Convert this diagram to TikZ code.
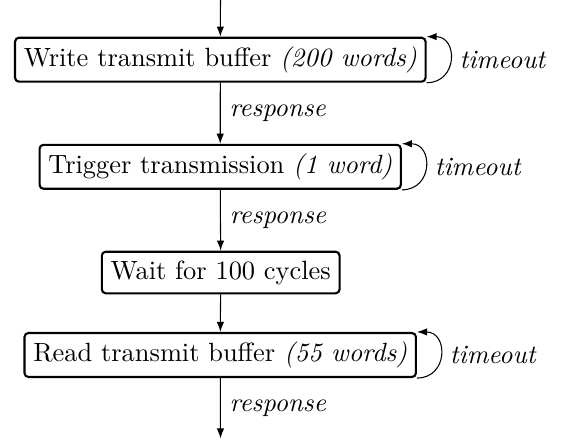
\documentclass[tikz,border=0pt]{standalone}
\usetikzlibrary{arrows.meta}
\begin{document}
\begin{tikzpicture}[x=0.3788pt,y=-0.3788pt,
  stepbox/.style={draw,thick,rounded corners=1.5pt,inner sep=3.33pt},
  flow/.style={-{Latex[length=3.8pt,width=2.8pt]}},
  lbl/.style={font=\itshape},
  retry/.style={flow,out=0,in=0,looseness=1.75}]
\useasboundingbox (0,0) rectangle (564,439);
\coordinate (top) at (220.5,0);
\coordinate (bot) at (220.5,438.5);
\node[stepbox] (b1) at (220.3,59.7) {Write transmit buffer \textit{(200 words)}};
\node[stepbox] (b2) at (220.2,166.8) {Trigger transmission \textit{(1 word)}};
\node[stepbox] (b3) at (220.7,272.5) {Wait for 100 cycles};
\node[stepbox] (b4) at (220.2,355) {Read transmit buffer \textit{(55 words)}};
\draw[flow] (top) -- (b1.north);
\draw[flow] (b1) -- node[right,lbl]{response} (b2);
\draw[flow] (b2) -- node[right,lbl]{response} (b3);
\draw[flow] (b3) -- (b4);
\draw[flow] (b4) -- node[right,lbl]{response} (bot);
\draw[retry] (b1.south east) to node[right,lbl]{timeout} (b1.north east);
\draw[retry] (b2.south east) to node[right,lbl]{timeout} (b2.north east);
\draw[retry] (b4.south east) to node[right,lbl]{timeout} (b4.north east);
\end{tikzpicture}
\end{document}
